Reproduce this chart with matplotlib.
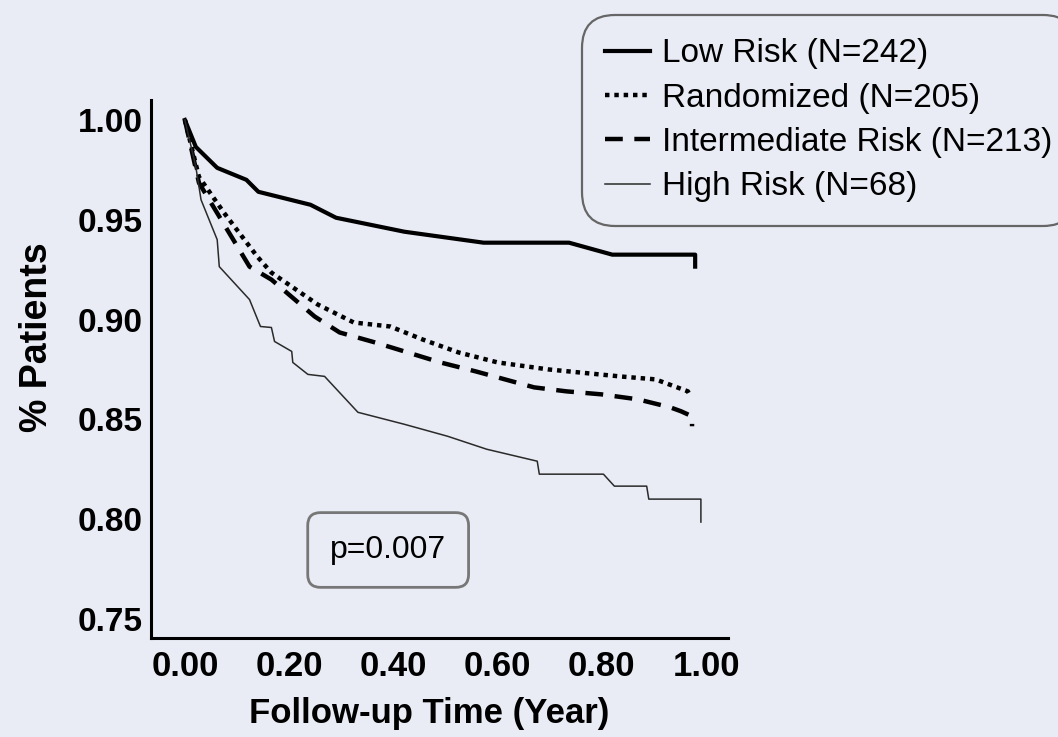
import numpy as np
import matplotlib
matplotlib.use("Agg")
from matplotlib import pyplot as plt

# survival curves (time in years, fraction of patients)
low_t = [0, 0.021, 0.062, 0.118, 0.141, 0.241, 0.290, 0.421, 0.573, 0.737, 0.820, 0.979, 0.979]
low_s = [1.0, 0.9865, 0.976, 0.970, 0.964, 0.9575, 0.951, 0.944, 0.9385, 0.9385, 0.9325, 0.9325, 0.9265]

rand_t = [0, 0.027, 0.075, 0.139, 0.166, 0.255, 0.324, 0.394, 0.456, 0.525, 0.600, 0.697, 0.834, 0.903, 0.965, 0.969]
rand_s = [1.0, 0.9715, 0.9535, 0.9315, 0.9235, 0.9075, 0.8985, 0.8965, 0.890, 0.8835, 0.8785, 0.875, 0.8715, 0.870, 0.864, 0.862]

inter_t = [0, 0.027, 0.124, 0.166, 0.249, 0.297, 0.365, 0.490, 0.558, 0.670, 0.732, 0.799, 0.869, 0.931, 0.952, 0.973, 0.973]
inter_s = [1.0, 0.9685, 0.9265, 0.920, 0.9015, 0.8935, 0.8885, 0.8785, 0.874, 0.866, 0.864, 0.8625, 0.860, 0.856, 0.854, 0.8515, 0.8465]

high_t = [0, 0.021, 0.031, 0.062, 0.066, 0.124, 0.145, 0.166, 0.172, 0.205, 0.207, 0.236, 0.268, 0.332,
          0.421, 0.504, 0.579, 0.676, 0.680, 0.803, 0.824, 0.886, 0.890, 0.990, 0.990]
high_s = [1.0, 0.9765, 0.960, 0.940, 0.9265, 0.910, 0.8965, 0.896, 0.889, 0.884, 0.8785, 0.8725, 0.8715, 0.8535,
          0.8475, 0.8415, 0.835, 0.829, 0.8225, 0.8225, 0.8165, 0.8165, 0.810, 0.810, 0.7985]

labels = ["Low Risk (N=242)", "Randomized (N=205)", "Intermediate Risk (N=213)", "High Risk (N=68)"]
xticks = [0.0, 0.2, 0.4, 0.6, 0.8, 1.0]
yticks = [0.75, 0.80, 0.85, 0.90, 0.95, 1.00]
p_text = "p=0.007"

bg = "#e9ecf5"
plt.rcParams['font.family'] = ["Liberation Sans", "DejaVu Sans"]

fig = plt.figure(figsize=(10.58, 7.37), dpi=100, facecolor=bg)
ax = fig.add_axes([151/1058, 1-638/737, 577/1058, 538/737], facecolor=bg)

l1, = ax.plot(low_t, low_s, color="black", lw=3.0, solid_joinstyle="round")
l2, = ax.plot(rand_t, rand_s, color="black", lw=3.2, linestyle=(0, (1, 1.1)), dash_capstyle="butt")
l3, = ax.plot(inter_t, inter_s, color="black", lw=3.2, linestyle=(0, (4, 2.6)), dash_capstyle="butt")
l4, = ax.plot(high_t, high_s, color="#2a2a2a", lw=1.1)

ax.set_xlim(-0.065, 1.042)
ax.set_ylim(0.7404, 1.01)
ax.set_xticks(xticks)
ax.set_xticklabels(["%.2f" % v for v in xticks])
ax.set_yticks(yticks)
ax.set_yticklabels(["%.2f" % v for v in yticks])
ax.tick_params(length=0)
ax.tick_params(axis="x", pad=9)
ax.tick_params(axis="y", pad=6)
for lab in ax.get_xticklabels():
    lab.set_fontsize(25); lab.set_fontweight("bold")
for lab in ax.get_yticklabels():
    lab.set_fontsize(24); lab.set_fontweight("bold")

for s in ["top", "right"]:
    ax.spines[s].set_visible(False)
for s in ["left", "bottom"]:
    ax.spines[s].set_linewidth(2.2)

ax.set_xlabel("Follow-up Time (Year)", fontsize=25, fontweight="bold")
ax.xaxis.set_label_coords(0.482, -0.11)
ax.set_ylabel("% Patients", fontsize=27, fontweight="bold")
ax.yaxis.set_label_coords(-0.166, 0.56)

ax.text(0.411, 0.1636, p_text, transform=ax.transAxes, ha="center", va="center", fontsize=23,
        bbox=dict(boxstyle="round,pad=0.7,rounding_size=0.4", facecolor=bg, edgecolor="#777777", lw=2))

leg = fig.legend([l1, l2, l3, l4], labels, loc="upper left", bbox_to_anchor=(582/1058, 1-15/737),
                 fontsize=24, handlelength=1.35, handletextpad=0.36, borderpad=0.7, labelspacing=0.4,
                 borderaxespad=0, frameon=True, facecolor=bg, edgecolor="#666666", framealpha=1)
leg.get_frame().set_boxstyle("round", pad=0, rounding_size=1.0)
leg.get_frame().set_linewidth(1.6)

fig.savefig("out.png", dpi=100, facecolor=bg)
